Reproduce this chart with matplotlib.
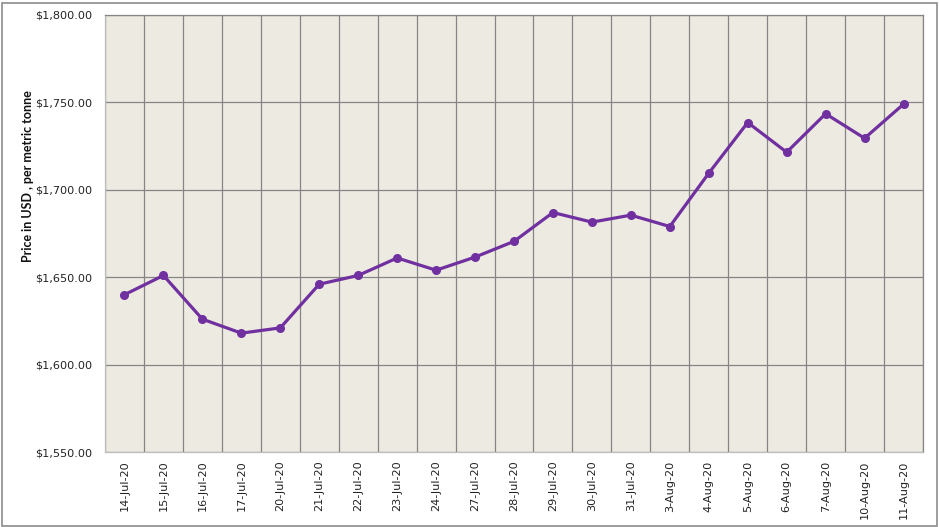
import matplotlib.pyplot as plt
from matplotlib.ticker import FuncFormatter, FixedLocator
from matplotlib.patches import Rectangle

# Dữ liệu giá (USD / tấn)
dates = ["14-Jul-20", "15-Jul-20", "16-Jul-20", "17-Jul-20", "20-Jul-20",
         "21-Jul-20", "22-Jul-20", "23-Jul-20", "24-Jul-20", "27-Jul-20",
         "28-Jul-20", "29-Jul-20", "30-Jul-20", "31-Jul-20", "3-Aug-20",
         "4-Aug-20", "5-Aug-20", "6-Aug-20", "7-Aug-20", "10-Aug-20",
         "11-Aug-20"]
prices = [1640, 1651, 1626, 1618, 1621,
          1646, 1651, 1661, 1654, 1661.5,
          1670.5, 1687, 1681.5, 1685.5, 1679,
          1709.5, 1738.5, 1721.5, 1743.5, 1729.5,
          1749]
y_ticks = [1550, 1600, 1650, 1700, 1750, 1800]

fig = plt.figure(figsize=(9.39, 5.27), dpi=100)
ax = fig.add_axes([105 / 939, 1 - 452 / 527, 818 / 939, 437 / 527])
ax.set_facecolor("#EDEAE1")

x = list(range(len(dates)))
ax.plot(x, prices, color="#7030A0", linewidth=2.3, marker="o",
        markersize=5.5, zorder=3)

ax.set_xlim(-0.5, len(dates) - 0.5)
ax.set_ylim(y_ticks[0], y_ticks[-1])
ax.set_yticks(y_ticks)
ax.yaxis.set_major_formatter(FuncFormatter(lambda v, p: f"${v:,.2f}"))
ax.set_xticks(x)
ax.set_xticklabels(dates, rotation=90)

# đường lưới dọc nằm giữa các ngày
ax.xaxis.set_minor_locator(FixedLocator([i + 0.5 for i in range(-1, len(dates))]))
ax.grid(True, which="minor", axis="x", color="#858585", linewidth=0.9)
ax.grid(True, which="major", axis="y", color="#858585", linewidth=0.9)
ax.set_axisbelow(True)

ax.tick_params(axis="both", which="both", length=0, labelsize=8.1,
               labelcolor="#222222")
ax.tick_params(axis="x", pad=6)
ax.tick_params(axis="y", pad=9)

for side in ["top", "right"]:
    ax.spines[side].set_color("#858585")
    ax.spines[side].set_linewidth(0.9)
for side in ["left", "bottom"]:
    ax.spines[side].set_color("#BDBDBD")
    ax.spines[side].set_linewidth(0.9)

fig.text(28 / 939, 1 - 176 / 527, "Price in USD , per metric tonne",
         rotation=90, ha="center", va="center", fontsize=9,
         fontweight="bold", family="Lato", color="#111111")

# khung viền quanh biểu đồ
fig.patches.append(Rectangle((1.5 / 939, 1.5 / 527), 935 / 939, 523 / 527,
                             transform=fig.transFigure, fill=False,
                             edgecolor="#8C8C8C", linewidth=1.2))

fig.savefig("out.png", dpi=100)
